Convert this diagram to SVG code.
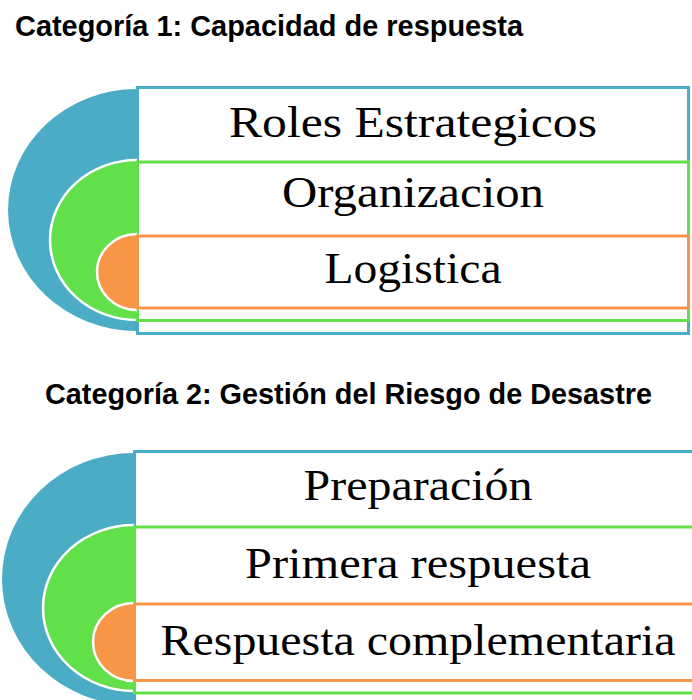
<svg xmlns="http://www.w3.org/2000/svg" width="692" height="700" viewBox="0 0 692 700">
<style>
.title{font-family:"Liberation Sans",Arial,sans-serif;font-weight:bold;font-size:29px;fill:#000}
.lbl{font-family:"Liberation Serif","Times New Roman",serif;font-size:44px;fill:#000;text-anchor:middle}
.blue{fill:#4bacc6}
.green{fill:#61e049}
.orange{fill:#f79646}
.arc{fill:none;stroke:#fff;stroke-width:2.5}
.rb{fill:#fff;stroke:#4bacc6;stroke-width:3}
.rg{fill:none;stroke:#61e049;stroke-width:3}
.ro{fill:none;stroke:#f79646;stroke-width:3}
</style>
<rect width="692" height="700" fill="#fff"/>
<g id="title1"><text class="title" x="15" y="36" textLength="508" lengthAdjust="spacingAndGlyphs">Categoría 1: Capacidad de respuesta</text></g>
<g id="title2"><text class="title" x="45" y="404" textLength="607" lengthAdjust="spacingAndGlyphs">Categoría 2: Gestión del Riesgo de Desastre</text></g>

<g id="c1-roles">
<path class="blue" d="M137,89 A129,121 0 0 0 137,331 Z"/>
<rect class="rb" x="137.5" y="87.5" width="551" height="246"/>
<text class="lbl" x="413" y="137" textLength="368" lengthAdjust="spacingAndGlyphs">Roles Estrategicos</text>
</g>
<g id="c1-organizacion">
<path class="green" d="M137,160 A87,80 0 0 0 137,320 Z"/>
<path class="arc" d="M137,160 A87,80 0 0 0 137,320"/>
<rect class="rg" x="137.5" y="162" width="551" height="158.5"/>
<text class="lbl" x="413" y="207" textLength="262" lengthAdjust="spacingAndGlyphs">Organizacion</text>
</g>
<g id="c1-logistica">
<path class="orange" d="M137,234 A40,38 0 0 0 137,310 Z"/>
<path class="arc" d="M137,234 A40,38 0 0 0 137,310"/>
<rect class="ro" x="137.5" y="236" width="551" height="72"/>
<text class="lbl" x="413" y="283" textLength="177" lengthAdjust="spacingAndGlyphs">Logistica</text>
</g>

<g id="c2-preparacion">
<path class="blue" d="M134,453 A132,126 0 0 0 134,705 Z"/>
<rect class="rb" x="134.5" y="451.5" width="580" height="256"/>
<text class="lbl" x="418" y="500" textLength="229" lengthAdjust="spacingAndGlyphs">Preparación</text>
</g>
<g id="c2-primera">
<path class="green" d="M134,525 A91,83 0 0 0 134,691 Z"/>
<path class="arc" d="M134,525 A91,83 0 0 0 134,691"/>
<rect class="rg" x="134.5" y="527" width="580" height="166"/>
<text class="lbl" x="418" y="578" textLength="346" lengthAdjust="spacingAndGlyphs">Primera respuesta</text>
</g>
<g id="c2-complementaria">
<path class="orange" d="M134,603 A41,39 0 0 0 134,681 Z"/>
<path class="arc" d="M134,603 A41,39 0 0 0 134,681"/>
<rect class="ro" x="134.5" y="604" width="580" height="76.5"/>
<text class="lbl" x="418" y="655" textLength="515" lengthAdjust="spacingAndGlyphs">Respuesta complementaria</text>
</g>
</svg>
